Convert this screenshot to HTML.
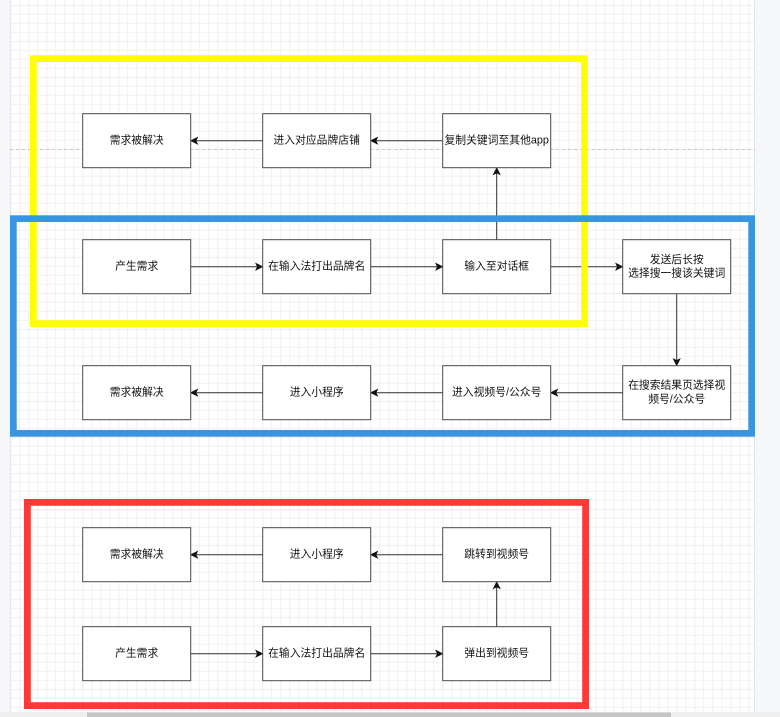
<!DOCTYPE html>
<html>
<head>
<meta charset="utf-8">
<style>
  html,body{margin:0;padding:0;background:#fff;}
  body{width:780px;height:717px;overflow:hidden;}
  svg{display:block;}
  text{font-family:"Liberation Sans","Noto Sans CJK SC",sans-serif;font-size:10.8px;fill:#111;}
</style>
</head>
<body>
<svg width="780" height="717" viewBox="0 0 780 717" xmlns="http://www.w3.org/2000/svg">
  <defs>
    <pattern id="grid" patternUnits="userSpaceOnUse" x="10.7" y="5.3" width="36" height="36">
      <rect width="36" height="36" fill="#ffffff"/>
      <g stroke="#f1f1f1" stroke-width="1">
        <line x1="9" y1="0" x2="9" y2="36"/>
        <line x1="18" y1="0" x2="18" y2="36"/>
        <line x1="27" y1="0" x2="27" y2="36"/>
        <line x1="0" y1="9" x2="36" y2="9"/>
        <line x1="0" y1="18" x2="36" y2="18"/>
        <line x1="0" y1="27" x2="36" y2="27"/>
      </g>
      <g stroke="#e2e2e2" stroke-width="1">
        <line x1="0" y1="0" x2="0" y2="36"/>
        <line x1="0" y1="0" x2="36" y2="0"/>
      </g>
    </pattern>
  </defs>

  <!-- canvas -->
  <rect x="0" y="0" width="780" height="717" fill="#f6f7f9"/>
  <rect x="10" y="0" width="745" height="712" fill="url(#grid)"/>
  <line x1="10.5" y1="0" x2="10.5" y2="712" stroke="#e6e7ea" stroke-width="1"/>
  <line x1="754.5" y1="0" x2="754.5" y2="712" stroke="#e3e4e7" stroke-width="1"/>

  <!-- page break dashed line -->
  <line x1="10" y1="149.5" x2="755" y2="149.5" stroke="#c8c8c8" stroke-width="1" stroke-dasharray="3,3"/>

  <!-- scrollbar -->
  <rect x="0" y="712" width="780" height="5" fill="#efefef"/>
  <rect x="87" y="712.5" width="584" height="4.5" fill="#c4c4c4"/>

  <!-- connectors -->
  <g stroke="#333" stroke-width="1" fill="none">
    <!-- row1 -->
    <line x1="262.7" y1="140.7" x2="196" y2="140.7"/>
    <line x1="442.7" y1="140.7" x2="376" y2="140.7"/>
    <!-- row2 -->
    <line x1="190.7" y1="266.7" x2="257.4" y2="266.7"/>
    <line x1="370.7" y1="266.7" x2="437.4" y2="266.7"/>
    <line x1="550.7" y1="266.7" x2="617.4" y2="266.7"/>
    <!-- verticals -->
    <line x1="496.7" y1="239.7" x2="496.7" y2="173"/>
    <line x1="676.7" y1="293.7" x2="676.7" y2="360.4"/>
    <!-- row3 -->
    <line x1="622.7" y1="392.7" x2="556" y2="392.7"/>
    <line x1="442.7" y1="392.7" x2="376" y2="392.7"/>
    <line x1="262.7" y1="392.7" x2="196" y2="392.7"/>
    <!-- row4 -->
    <line x1="442.7" y1="554.7" x2="376" y2="554.7"/>
    <line x1="262.7" y1="554.7" x2="196" y2="554.7"/>
    <!-- row5 -->
    <line x1="190.7" y1="653.7" x2="257.4" y2="653.7"/>
    <line x1="370.7" y1="653.7" x2="437.4" y2="653.7"/>
    <!-- red vertical -->
    <line x1="496.7" y1="626.7" x2="496.7" y2="587"/>
  </g>

  <!-- arrowheads -->
  <g fill="#111" stroke="#111" stroke-width="0.6" stroke-linejoin="miter">
    <!-- left pointing: tip at (x,y) -->
    <path d="M190.7,140.7 L197.7,137.2 L196,140.7 L197.7,144.2 Z"/>
    <path d="M370.7,140.7 L377.7,137.2 L376,140.7 L377.7,144.2 Z"/>
    <path d="M550.7,392.7 L557.7,389.2 L556,392.7 L557.7,396.2 Z"/>
    <path d="M370.7,392.7 L377.7,389.2 L376,392.7 L377.7,396.2 Z"/>
    <path d="M190.7,392.7 L197.7,389.2 L196,392.7 L197.7,396.2 Z"/>
    <path d="M370.7,554.7 L377.7,551.2 L376,554.7 L377.7,558.2 Z"/>
    <path d="M190.7,554.7 L197.7,551.2 L196,554.7 L197.7,558.2 Z"/>
    <!-- right pointing -->
    <path d="M262.7,266.7 L255.7,263.2 L257.4,266.7 L255.7,270.2 Z"/>
    <path d="M442.7,266.7 L435.7,263.2 L437.4,266.7 L435.7,270.2 Z"/>
    <path d="M622.7,266.7 L615.7,263.2 L617.4,266.7 L615.7,270.2 Z"/>
    <path d="M262.7,653.7 L255.7,650.2 L257.4,653.7 L255.7,657.2 Z"/>
    <path d="M442.7,653.7 L435.7,650.2 L437.4,653.7 L435.7,657.2 Z"/>
    <!-- up pointing -->
    <path d="M496.7,167.7 L493.2,174.7 L496.7,173 L500.2,174.7 Z"/>
    <path d="M496.7,581.7 L493.2,588.7 L496.7,587 L500.2,588.7 Z"/>
    <!-- down pointing -->
    <path d="M676.7,365.7 L673.2,358.7 L676.7,360.4 L680.2,358.7 Z"/>
  </g>

  <!-- boxes -->
  <g fill="#ffffff" stroke="#4a4a4a" stroke-width="1">
    <rect x="82.7" y="113.7" width="108" height="54"/>
    <rect x="262.7" y="113.7" width="108" height="54"/>
    <rect x="442.7" y="113.7" width="108" height="54"/>

    <rect x="82.7" y="239.7" width="108" height="54"/>
    <rect x="262.7" y="239.7" width="108" height="54"/>
    <rect x="442.7" y="239.7" width="108" height="54"/>
    <rect x="622.7" y="239.7" width="108" height="54"/>

    <rect x="82.7" y="365.7" width="108" height="54"/>
    <rect x="262.7" y="365.7" width="108" height="54"/>
    <rect x="442.7" y="365.7" width="108" height="54"/>
    <rect x="622.7" y="365.7" width="108" height="54"/>

    <rect x="82.7" y="527.7" width="108" height="54"/>
    <rect x="262.7" y="527.7" width="108" height="54"/>
    <rect x="442.7" y="527.7" width="108" height="54"/>

    <rect x="82.7" y="626.7" width="108" height="54"/>
    <rect x="262.7" y="626.7" width="108" height="54"/>
    <rect x="442.7" y="626.7" width="108" height="54"/>
  </g>

  <!-- labels -->
  <g text-anchor="middle" dominant-baseline="central">
    <text x="136.7" y="140.7">需求被解决</text>
    <text x="316.7" y="140.7">进入对应品牌店铺</text>
    <text x="496.7" y="140.7">复制关键词至其他app</text>

    <text x="136.7" y="266.7">产生需求</text>
    <text x="316.7" y="266.7">在输入法打出品牌名</text>
    <text x="496.7" y="266.7">输入至对话框</text>
    <text x="676.7" y="260">发送后长按</text>
    <text x="676.7" y="273.4">选择搜一搜该关键词</text>

    <text x="136.7" y="392.7">需求被解决</text>
    <text x="316.7" y="392.7">进入小程序</text>
    <text x="496.7" y="392.7">进入视频号/公众号</text>
    <text x="676.7" y="385.5">在搜索结果页选择视</text>
    <text x="676.7" y="399.3">频号/公众号</text>

    <text x="136.7" y="554.7">需求被解决</text>
    <text x="316.7" y="554.7">进入小程序</text>
    <text x="496.7" y="554.7">跳转到视频号</text>

    <text x="136.7" y="653.7">产生需求</text>
    <text x="316.7" y="653.7">在输入法打出品牌名</text>
    <text x="496.7" y="653.7">弹出到视频号</text>
  </g>

  <!-- group containers (drawn on top) -->
  <rect x="33.35" y="58.65" width="551.2" height="264.9" fill="none" stroke="#ffff00" stroke-width="6.7"/>
  <rect x="13.35" y="218.65" width="738.3" height="214.7" fill="none" stroke="#3a95e0" stroke-width="6.7"/>
  <rect x="27.4" y="502.4" width="558.2" height="203.2" fill="none" stroke="#ff3838" stroke-width="6.8"/>
</svg>
</body>
</html>
